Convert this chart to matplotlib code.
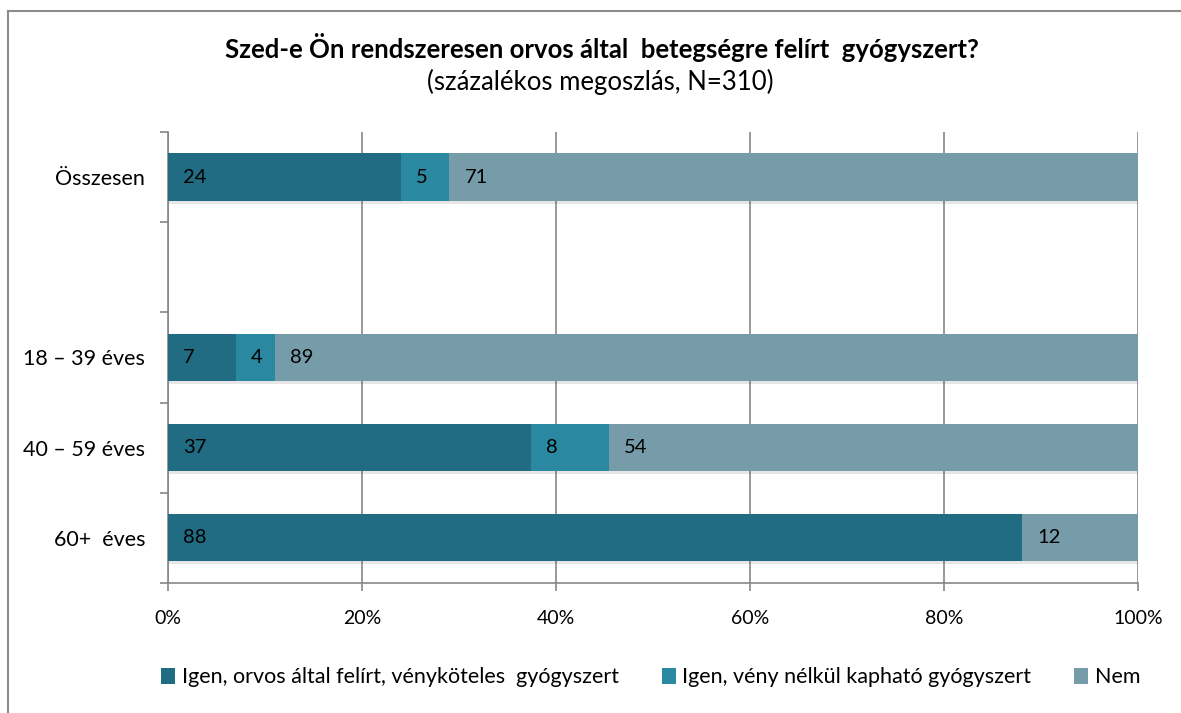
import matplotlib
matplotlib.use('Agg')
import matplotlib.pyplot as plt
import matplotlib.patheffects as pe
from matplotlib.lines import Line2D
from matplotlib.patches import Patch
import numpy as np

plt.rcParams['font.family'] = ['Lato', 'DejaVu Sans']

# ── Data ────────────────────────────────────────────────────────────────
categories = ['Összesen', '', '18 – 39 éves', '40 – 59 éves', '60+  éves']
series_names = ['Igen, orvos által felírt, vényköteles  gyógyszert',
                'Igen, vény nélkül kapható gyógyszert',
                'Nem']
igen_veny = [24, 0, 7, 37, 88]
igen_nelkul = [5, 0, 4, 8, 0]
nem = [71, 0, 89, 54, 12]
colors = ['#216C82', '#2A88A0', '#769CAA']
x_ticks = [0, 20, 40, 60, 80, 100]
x_ticklabels = ['0%', '20%', '40%', '60%', '80%', '100%']

values = np.array([igen_veny, igen_nelkul, nem], dtype=float)
totals = values.sum(axis=0)
totals[totals == 0] = 1
pct = values / totals * 100

fig = plt.figure(figsize=(11.81, 7.13), dpi=100)
ax = fig.add_axes([0.1423, 0.1828, 0.8213, 0.6317])

# outer chart border (only top and left edges are visible in the crop)
bx, by = 7.5 / 1181, 1 - 10.5 / 713
fig.lines.append(Line2D([bx, 1], [by, by], transform=fig.transFigure,
                        color='#8c8c8c', linewidth=1.5))
fig.lines.append(Line2D([bx, bx], [0, by], transform=fig.transFigure,
                        color='#8c8c8c', linewidth=1.5))

y = np.arange(len(categories))
left = np.zeros(len(categories))
shadow = [pe.SimplePatchShadow(offset=(1, -2), alpha=0.12, shadow_rgbFace='#333333'),
          pe.Normal()]
for i in range(3):
    bars = ax.barh(y, pct[i], left=left, height=0.53, color=colors[i],
                   edgecolor='none', zorder=3)
    for b in bars:
        b.set_path_effects(shadow)
    for j in range(len(categories)):
        if values[i, j] > 0:
            ax.annotate(f'{int(values[i, j])}', xy=(left[j], y[j]),
                        xytext=(11, 0), textcoords='offset points',
                        ha='left', va='center', fontsize=14.5, color='black',
                        zorder=4)
    left += pct[i]

ax.set_xlim(0, 100)
ax.set_ylim(len(categories) - 0.5, -0.5)
ax.set_xticks(x_ticks)
ax.set_xticklabels(x_ticklabels, fontsize=14)
ax.set_yticks(y)
ax.set_yticklabels(categories, fontsize=15.5)
ax.set_yticks(np.arange(-0.5, len(categories)), minor=True)
ax.tick_params(axis='y', which='major', length=0, pad=16.5)
ax.tick_params(axis='y', which='minor', length=6, color='#878787', width=1.2)
ax.tick_params(axis='x', length=6, color='#878787', width=1.2, pad=14)
ax.grid(axis='x', color='#878787', linewidth=1.2, zorder=0)
for s in ['top', 'right']:
    ax.spines[s].set_visible(False)
for s in ['left', 'bottom']:
    ax.spines[s].set_color('#878787')
    ax.spines[s].set_linewidth(1.2)

fig.text(0.51, 0.933, 'Szed-e Ön rendszeresen orvos által  betegségre felírt  gyógyszert?',
         ha='center', va='center', fontsize=18.5, fontweight='bold')
fig.text(0.508, 0.885, '(százalékos megoszlás, N=310)', ha='center', va='center',
         fontsize=18.5)

handles = [Patch(facecolor=c, edgecolor='none') for c in colors]
fig.legend(handles, series_names, loc='center', bbox_to_anchor=(0.551, 0.05),
           ncol=3, frameon=False, fontsize=15.5, handlelength=0.65, handleheight=0.8,
           handletextpad=0.3, columnspacing=2.0)

fig.savefig('out.png', dpi=100)
